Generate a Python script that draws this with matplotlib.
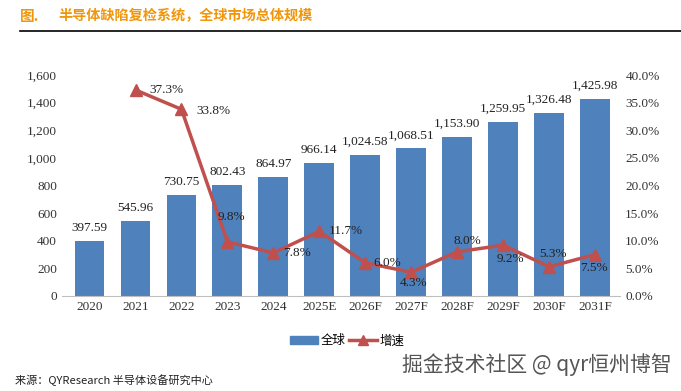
import numpy as np
import matplotlib
import matplotlib.pyplot as plt
from matplotlib.lines import Line2D
from matplotlib.patches import Patch

matplotlib.use("Agg")

years = ["2020", "2021", "2022", "2023", "2024", "2025E", "2026F",
         "2027F", "2028F", "2029F", "2030F", "2031F"]
market = [397.59, 545.96, 730.75, 802.43, 864.97, 966.14, 1024.58,
          1068.51, 1153.90, 1259.95, 1326.48, 1425.98]
growth = [None, 37.3, 33.8, 9.8, 7.8, 11.7, 6.0, 4.3, 8.0, 9.2, 5.3, 7.5]

# where each growth label centre sits relative to its point (points)
growth_offsets = [None, (22, 0), (23, -1), (3, 18), (17, 0), (19, 0), (16, 0),
                  (2, -8), (7, 8), (5, -10), (3, 9), (-1, -10)]

blue = "#4F81BD"
red = "#C0504D"
serif = ["Liberation Serif", "DejaVu Serif"]
cjk = ["Noto Sans CJK SC", "DejaVu Sans"]

fig = plt.figure(figsize=(6.81, 3.91), dpi=100)
ax = fig.add_axes([0.091, 0.243, 0.82, 0.565])
ax2 = ax.twinx()

x = np.arange(len(years))
ax.bar(x, market, width=0.65, color=blue, zorder=2)
for xi, v in zip(x, market):
    ax.annotate(f"{v:,.2f}", (xi, v), xytext=(0, 5), textcoords="offset points",
                ha="center", va="bottom", fontsize=9.5, family=serif, color="#222222")

gx = [xi for xi, g in zip(x, growth) if g is not None]
gy = [g for g in growth if g is not None]
ax2.plot(gx, gy, color=red, lw=2.5, marker="^", ms=8, zorder=3)
for xi, g, off in zip(x, growth, growth_offsets):
    if g is None:
        continue
    ax2.annotate(f"{g:.1f}%", (xi, g), xytext=off, textcoords="offset points",
                 ha="center", va="center", fontsize=9.5, family=serif, color="#222222")

ax.set_xlim(-0.6, len(years) - 0.45)
ax.set_ylim(0, 1600)
ax.set_yticks(np.arange(0, 1601, 200))
ax.set_yticklabels([f"{t:,}" for t in range(0, 1601, 200)], family=serif, fontsize=9.5, color="#333333")
ax.set_xticks(x)
ax.set_xticklabels(years, family=serif, fontsize=9.5, color="#333333")
ax2.set_ylim(0, 40)
ax2.set_yticks(np.arange(0, 41, 5))
ax2.set_yticklabels([f"{t:.1f}%" for t in range(0, 41, 5)], family=serif, fontsize=9.5, color="#333333")

for a in (ax, ax2):
    for s in ("top", "left", "right"):
        a.spines[s].set_visible(False)
    a.tick_params(length=0)
ax2.spines["bottom"].set_visible(False)
ax.spines["bottom"].set_color("#BFBFBF")

handles = [Patch(color=blue, label="全球"),
           Line2D([0], [0], color=red, lw=2.5, marker="^", ms=7, label="增速")]
fig.legend(handles=handles, loc="center", bbox_to_anchor=(0.51, 0.128), ncol=2,
           frameon=False, prop={"family": cjk, "size": 9}, handlelength=2.2,
           columnspacing=0.3, handletextpad=0.2)

fig.text(0.029, 0.959, "图.", family=cjk, fontsize=10.5, weight="bold", color="#F0960A", va="center")
fig.text(0.085, 0.959, "半导体缺陷复检系统，全球市场总体规模", family=cjk, fontsize=10.2,
         weight="bold", color="#F0960A", va="center")
fig.add_artist(Line2D([0.029, 1.0], [0.921, 0.921], color="black", lw=1.2))

fig.text(0.022, 0.028, "来源：QYResearch 半导体设备研究中心", family=cjk, fontsize=8,
         style="italic", color="#222222", va="center")
fig.text(0.987, 0.068, "掘金技术社区 @ qyr恒州博智", family=cjk, fontsize=15,
         color="#555555", ha="right", va="center")

fig.savefig("out.png", dpi=100)
